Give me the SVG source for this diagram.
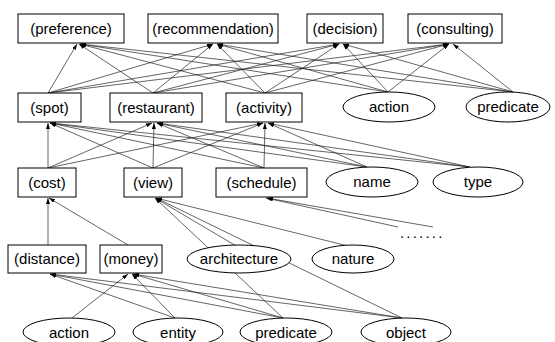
<svg xmlns="http://www.w3.org/2000/svg" width="555" height="342" viewBox="0 0 555 342">
<defs>
<style>
.n rect, .n ellipse { fill: #fff; stroke: #000; stroke-width: 1; }
.n text { font-family: "Liberation Sans", Arial, sans-serif; font-size: 15px; fill: #000; text-anchor: middle; }
#edges line { stroke: #222; stroke-width: 0.7; marker-end: url(#ah); }
</style>
<marker id="ah" viewBox="0 0 6 4" refX="6" refY="2" markerWidth="6" markerHeight="4" orient="auto" markerUnits="userSpaceOnUse">
<path d="M0,0 L6,2 L0,4 z" fill="#000"/>
</marker>
</defs>
<rect width="555" height="342" fill="#fff"/>
<g id="edges">
<line x1="48" y1="93" x2="77" y2="44"/>
<line x1="153" y1="93" x2="79" y2="44"/>
<line x1="265" y1="93" x2="80" y2="44"/>
<line x1="388" y1="92" x2="80" y2="44"/>
<line x1="513" y1="92" x2="80" y2="44"/>
<line x1="48" y1="93" x2="213" y2="44"/>
<line x1="153" y1="93" x2="213" y2="44"/>
<line x1="265" y1="93" x2="217" y2="44"/>
<line x1="388" y1="92" x2="217" y2="44"/>
<line x1="513" y1="92" x2="217" y2="44"/>
<line x1="48" y1="93" x2="339" y2="44"/>
<line x1="153" y1="93" x2="339" y2="44"/>
<line x1="265" y1="93" x2="339" y2="44"/>
<line x1="388" y1="92" x2="343" y2="44"/>
<line x1="513" y1="92" x2="343" y2="44"/>
<line x1="48" y1="93" x2="449" y2="44"/>
<line x1="153" y1="93" x2="449" y2="44"/>
<line x1="265" y1="93" x2="449" y2="44"/>
<line x1="388" y1="92" x2="449" y2="44"/>
<line x1="513" y1="92" x2="453" y2="44"/>
<line x1="48" y1="168" x2="48" y2="123"/>
<line x1="153" y1="168" x2="50" y2="123"/>
<line x1="264" y1="168" x2="50" y2="123"/>
<line x1="367" y1="167" x2="50" y2="123"/>
<line x1="470" y1="167" x2="50" y2="123"/>
<line x1="48" y1="168" x2="152" y2="123"/>
<line x1="153" y1="168" x2="154" y2="123"/>
<line x1="264" y1="168" x2="157" y2="123"/>
<line x1="367" y1="167" x2="157" y2="123"/>
<line x1="470" y1="167" x2="157" y2="123"/>
<line x1="48" y1="168" x2="263" y2="123"/>
<line x1="153" y1="168" x2="263" y2="123"/>
<line x1="264" y1="168" x2="265" y2="123"/>
<line x1="367" y1="167" x2="268" y2="123"/>
<line x1="470" y1="167" x2="268" y2="123"/>
<line x1="48" y1="245" x2="48" y2="198"/>
<line x1="128" y1="245" x2="49" y2="198"/>
<line x1="238" y1="247" x2="155" y2="198"/>
<line x1="348" y1="246" x2="156" y2="198"/>
<line x1="283" y1="318" x2="155" y2="198"/>
<line x1="402" y1="318" x2="156" y2="198"/>
<line x1="398" y1="227" x2="266" y2="198"/>
<line x1="433" y1="227" x2="267" y2="198"/>
<line x1="175" y1="318" x2="50" y2="274"/>
<line x1="283" y1="318" x2="50" y2="274"/>
<line x1="402" y1="318" x2="50" y2="274"/>
<line x1="72" y1="318" x2="128" y2="274"/>
<line x1="175" y1="318" x2="132" y2="274"/>
<line x1="283" y1="318" x2="133" y2="274"/>
<line x1="402" y1="318" x2="133" y2="274"/>
</g>
<g id="preference" class="n"><rect x="18" y="14" width="106" height="29"/><text x="71" y="34">(preference)</text></g>
<g id="recommendation" class="n"><rect x="148" y="14" width="130" height="29"/><text x="213" y="34">(recommendation)</text></g>
<g id="decision" class="n"><rect x="307" y="14" width="76" height="29"/><text x="345" y="34">(decision)</text></g>
<g id="consulting" class="n"><rect x="408" y="14" width="94" height="29"/><text x="455" y="34">(consulting)</text></g>
<g id="spot" class="n"><rect x="18" y="93" width="63" height="29"/><text x="49.5" y="113">(spot)</text></g>
<g id="restaurant" class="n"><rect x="110" y="93" width="92" height="29"/><text x="156" y="113">(restaurant)</text></g>
<g id="activity" class="n"><rect x="226" y="93" width="76" height="29"/><text x="264" y="113">(activity)</text></g>
<g id="action1" class="n"><ellipse cx="389" cy="107" rx="46" ry="15"/><text x="389" y="112">action</text></g>
<g id="predicate1" class="n"><ellipse cx="508" cy="107" rx="42" ry="15"/><text x="508" y="112">predicate</text></g>
<g id="cost" class="n"><rect x="18" y="168" width="58" height="29"/><text x="47" y="188">(cost)</text></g>
<g id="view" class="n"><rect x="124" y="168" width="58" height="29"/><text x="153" y="188">(view)</text></g>
<g id="schedule" class="n"><rect x="216" y="168" width="91" height="29"/><text x="261.5" y="188">(schedule)</text></g>
<g id="name" class="n"><ellipse cx="372" cy="182" rx="46" ry="15"/><text x="372" y="187">name</text></g>
<g id="type" class="n"><ellipse cx="478" cy="182" rx="45" ry="15"/><text x="478" y="187">type</text></g>
<g id="more" class="n"><text x="400" y="238" style="text-anchor:start;letter-spacing:2.2px">.......</text></g>
<g id="distance" class="n"><rect x="8" y="245" width="78" height="28"/><text x="47" y="264">(distance)</text></g>
<g id="money" class="n"><rect x="100" y="245" width="62" height="28"/><text x="131" y="264">(money)</text></g>
<g id="architecture" class="n"><ellipse cx="239" cy="259" rx="52" ry="14"/><text x="239" y="264">architecture</text></g>
<g id="nature" class="n"><ellipse cx="353" cy="259" rx="41" ry="14"/><text x="353" y="264">nature</text></g>
<g id="action2" class="n"><ellipse cx="69" cy="332" rx="46" ry="14"/><text x="69" y="338">action</text></g>
<g id="entity" class="n"><ellipse cx="178" cy="332" rx="45" ry="14"/><text x="178" y="338">entity</text></g>
<g id="predicate2" class="n"><ellipse cx="286" cy="332" rx="46" ry="14"/><text x="286" y="338">predicate</text></g>
<g id="object" class="n"><ellipse cx="406" cy="332" rx="45" ry="14"/><text x="406" y="338">object</text></g>
</svg>
